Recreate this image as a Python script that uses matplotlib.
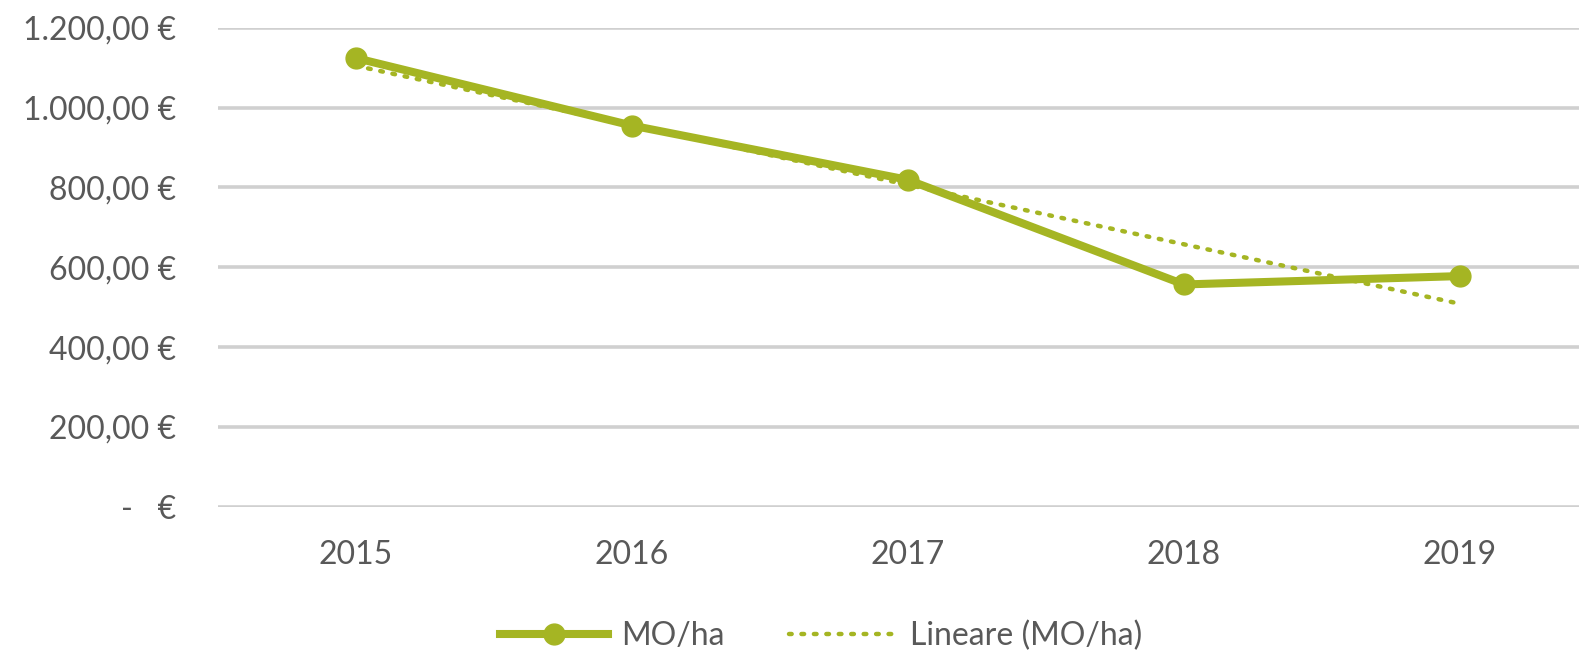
import numpy as np
import matplotlib.pyplot as plt
from matplotlib.ticker import FuncFormatter

years = ['2015', '2016', '2017', '2018', '2019']
mo_ha = [1124, 955, 819, 557, 578]
yticks = [0, 200, 400, 600, 800, 1000, 1200]

green = '#a5b523'
gray = '#595959'

plt.rcParams['font.family'] = ['Lato', 'DejaVu Sans']


def euro(v, pos):
    if v == 0:
        return '-   €'
    s = f'{v:,.2f}'.replace(',', 'X').replace('.', ',').replace('X', '.')
    return s + ' €'


fig = plt.figure(figsize=(15.79, 6.6), dpi=100)
ax = fig.add_axes([0.138, 0.232, 0.874, 0.726])

x = np.arange(len(years))
ax.plot(x, mo_ha, color=green, lw=5.8, marker='o', markersize=15,
        solid_joinstyle='round', label='MO/ha', zorder=3)

k, b = np.polyfit(x, mo_ha, 1)
ax.plot(x, k * x + b, color=green, lw=3.2, linestyle=(0, (0.6, 2.2)),
        dash_capstyle='round', label='Lineare (MO/ha)', zorder=4)

ax.set_xlim(-0.5, 4.5)
ax.set_ylim(0, 1200)
ax.set_yticks(yticks)
ax.yaxis.set_major_formatter(FuncFormatter(euro))
ax.set_xticks(x)
ax.set_xticklabels(years)
ax.grid(axis='y', color='#d0d0d0', lw=2.6, zorder=0)
ax.set_axisbelow(True)
for s in ax.spines.values():
    s.set_visible(False)
ax.tick_params(axis='both', length=0, labelsize=23, colors=gray)
ax.tick_params(axis='y', pad=30)
ax.tick_params(axis='x', pad=24)

leg = fig.legend(loc='lower center', bbox_to_anchor=(0.52, -0.03), ncol=2,
                 frameon=False, fontsize=23, handlelength=3.4,
                 columnspacing=2.0, handletextpad=0.4)
for t in leg.get_texts():
    t.set_color(gray)

fig.savefig('out.png', dpi=100)
